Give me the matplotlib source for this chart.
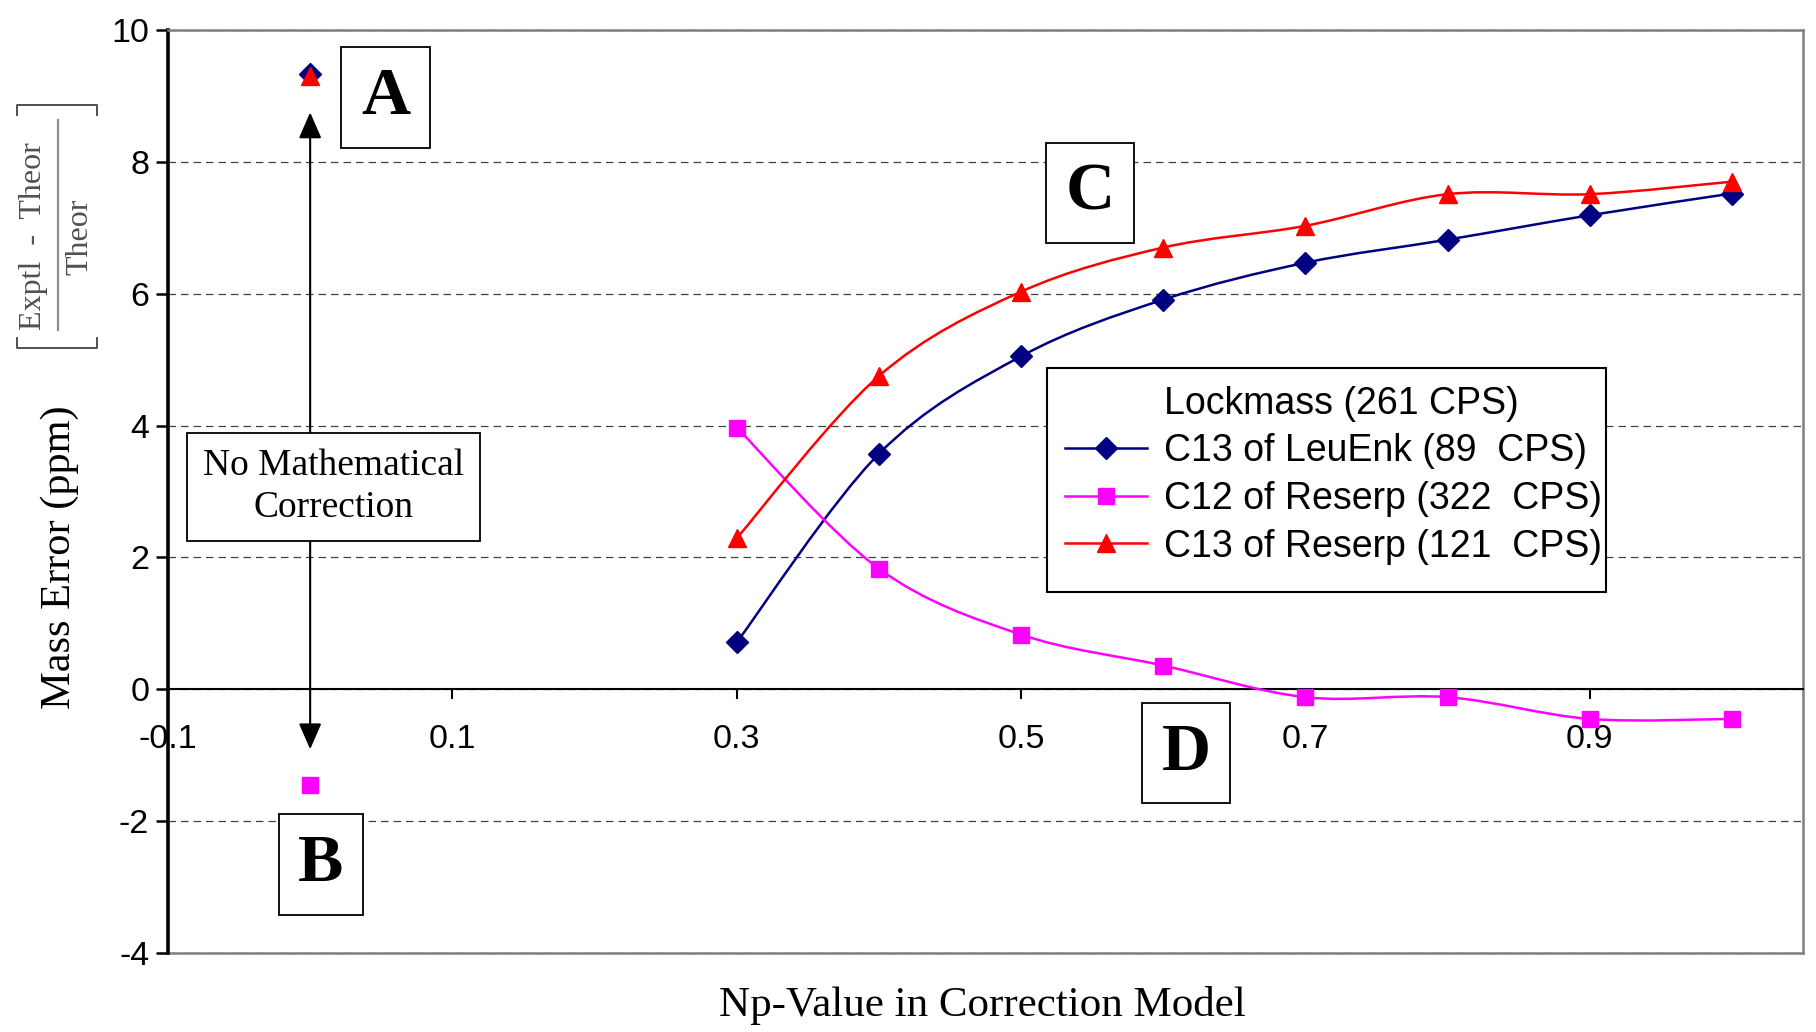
import numpy as np
import matplotlib.pyplot as plt
from matplotlib.path import Path
from matplotlib.patches import PathPatch, Rectangle
from matplotlib.lines import Line2D

plt.rcParams['font.family'] = 'Liberation Sans'
plt.rcParams['axes.unicode_minus'] = False

nan = np.nan

# Np value of the correction model (0 = uncorrected)
np_value = [0.0, 0.1, 0.2, 0.3, 0.4, 0.5, 0.6, 0.7, 0.8, 0.9, 1.0]
c13_leuenk = [9.33, nan, nan, 0.71, 3.57, 5.05, 5.91, 6.47, 6.82, 7.19, 7.52]
c12_reserp = [-1.45, nan, nan, 3.97, 1.83, 0.83, 0.36, -0.12, -0.12, -0.45, -0.45]
c13_reserp = [9.30, nan, nan, 2.29, 4.75, 6.03, 6.70, 7.03, 7.51, 7.51, 7.70]

series_labels = ['C13 of LeuEnk (89  CPS)', 'C12 of Reserp (322  CPS)', 'C13 of Reserp (121  CPS)']
lock_label = 'Lockmass (261 CPS)'

x_ticks = [-0.1, 0.1, 0.3, 0.5, 0.7, 0.9]
y_ticks = [-4, -2, 0, 2, 4, 6, 8, 10]

W, H = 1816, 1032


def smooth_path(x, y):
    # excel-style smoothed line: bezier pieces through each run of points
    pts = np.column_stack([x, y]).astype(float)
    ok = ~np.isnan(pts[:, 1])
    verts, codes = [], []
    i = 0
    while i < len(pts):
        if not ok[i]:
            i += 1
            continue
        j = i
        while j < len(pts) and ok[j]:
            j += 1
        p = pts[i:j]
        if len(p) > 1:
            verts.append(p[0]); codes.append(Path.MOVETO)
            for k in range(len(p) - 1):
                p0 = p[k - 1] if k > 0 else p[k]
                p3 = p[k + 2] if k + 2 < len(p) else p[k + 1]
                c1 = p[k] + (p[k + 1] - p0) / 6.0
                c2 = p[k + 1] - (p3 - p[k]) / 6.0
                verts += [c1, c2, p[k + 1]]
                codes += [Path.CURVE4] * 3
        i = j
    return Path(verts, codes)


def fx(px):
    return px / W


def fy(py):
    return 1 - py / H


fig = plt.figure(figsize=(W / 100, H / 100), dpi=100)
ax = fig.add_axes([0.0925, 0.0766, 0.9003, 0.8943])

ax.set_xlim(-0.1, 1.05)
ax.set_ylim(-4, 10)

styles = [
    dict(color='#000080', marker='D', ms=11),
    dict(color='#FF00FF', marker='s', ms=11),
    dict(color='#FF0000', marker='^', ms=13),
]
handles = [Line2D([], [], linestyle='none', label=lock_label)]
for yv, st, lab in zip([c13_leuenk, c12_reserp, c13_reserp], styles, series_labels):
    ax.add_patch(PathPatch(smooth_path(np_value, yv), fill=False, edgecolor=st['color'],
                           lw=1.8, zorder=3, capstyle='round', joinstyle='round'))
    ax.plot(np_value, yv, linestyle='none', marker=st['marker'], ms=st['ms'],
            color=st['color'], mec=st['color'], zorder=4)
    handles.append(Line2D([], [], color=st['color'], lw=1.8, marker=st['marker'],
                          ms=st['ms'], label=lab))

# axes styling
ax.spines['bottom'].set_position(('data', 0))
ax.spines['bottom'].set_linewidth(1.5)
ax.spines['left'].set_linewidth(2.6)
for s in ['top', 'right']:
    ax.spines[s].set_color('#808080')
    ax.spines[s].set_linewidth(1.8)
ax.axhline(-4, color='#808080', lw=1.8, clip_on=False, zorder=2.5)

ax.set_xticks(x_ticks)
ax.set_xticklabels([f'{v:g}' for v in x_ticks])
ax.set_yticks(y_ticks)
ax.tick_params(axis='x', direction='out', length=7, width=1.5, pad=18, labelsize=24.5)
ax.tick_params(axis='y', direction='out', length=8.5, width=1.8, pad=5, labelsize=24.5)

ax.set_axisbelow(True)
ax.yaxis.grid(True, color='#404040', lw=0.9, linestyle=(0, (6, 4)))

# legend with a plain rectangular frame
ax.add_patch(Rectangle((0.5376, 0.391), 0.342, 0.2428, transform=ax.transAxes,
                       facecolor='white', edgecolor='black', lw=1.5, zorder=5))
leg = ax.legend(handles=handles, loc='upper left', bbox_to_anchor=(0.5376, 0.6338),
                borderaxespad=0, frameon=False, fontsize=27, borderpad=0.47,
                handlelength=2.2, handletextpad=0.45, labelspacing=0.31)
leg.set_zorder(6)

# uncorrected values: arrow between the two extremes
ax.annotate('', xy=(0.0, 8.75), xytext=(0.0, -0.91),
            arrowprops=dict(arrowstyle='<|-|>,head_length=0.8,head_width=0.35',
                            mutation_scale=20, color='black', lw=1.5,
                            shrinkA=0, shrinkB=0), zorder=3)
ax.text(0.0164, 3.07, 'No Mathematical\nCorrection', family='Liberation Serif',
        fontsize=27, ha='center', va='center', linespacing=1.28, zorder=5,
        bbox=dict(boxstyle='square,pad=0.42', fc='white', ec='black', lw=1.3))

box_letters = ['A', 'B', 'C', 'D']
box_x = [0.053, 0.0076, 0.5485, 0.616]
box_y = [8.98, -2.66, 7.53, -0.97]
for lt, bx, by in zip(box_letters, box_x, box_y):
    ax.text(bx, by, lt, family='Liberation Serif', fontweight='bold', fontsize=49,
            ha='center', va='center', zorder=5,
            bbox=dict(boxstyle='square,pad=0.29', fc='white', ec='black', lw=1.3))

fig.text(0.033, 0.46, 'Mass Error (ppm)', family='Liberation Serif', fontsize=30.5,
         rotation=90, ha='center', va='center')
fig.text(0.541, 0.026, 'Np-Value in Correction Model', family='Liberation Serif',
         fontsize=31, ha='center', va='center')

# bracketed relative-error fraction beside the y label
frac_col = '#505050'
fig.text(fx(34), fy(236), 'Exptl  -  Theor', family='Liberation Serif', fontsize=23,
         color=frac_col, rotation=90, ha='center', va='center')
fig.text(fx(80), fy(237), 'Theor', family='Liberation Serif', fontsize=23,
         color=frac_col, rotation=90, ha='center', va='center')
fig.add_artist(Line2D([fx(58), fx(58)], [fy(120), fy(330)], color='#909090', lw=1.6))
fig.add_artist(Line2D([fx(17), fx(17), fx(97), fx(97)], [fy(115), fy(105), fy(105), fy(115)],
                      color=frac_col, lw=1.4))
fig.add_artist(Line2D([fx(17), fx(17), fx(97), fx(97)], [fy(338), fy(348), fy(348), fy(338)],
                      color=frac_col, lw=1.4))

fig.savefig('out.png', dpi=100)
